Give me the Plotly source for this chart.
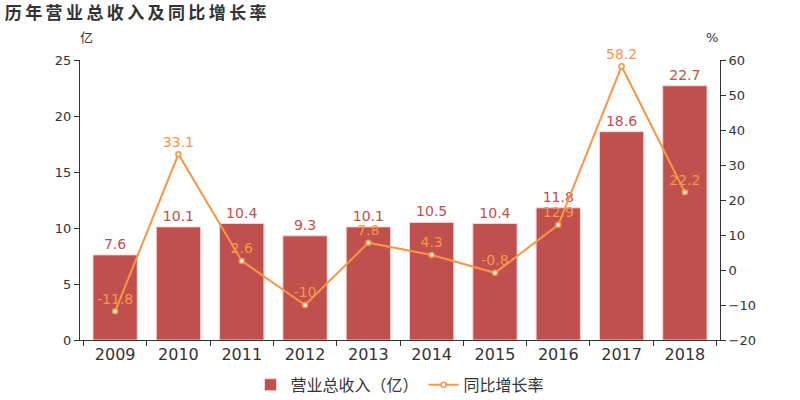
import plotly.graph_objects as go

years = ["2009", "2010", "2011", "2012", "2013", "2014", "2015", "2016", "2017", "2018"]
revenue = [7.6, 10.1, 10.4, 9.3, 10.1, 10.5, 10.4, 11.8, 18.6, 22.7]
growth = [-11.8, 33.1, 2.6, -10, 7.8, 4.3, -0.8, 12.9, 58.2, 22.2]

bar_color = "#c0504d"
line_color = "#f79646"
axis_color = "#333333"
font_family = "DejaVu Sans, Noto Sans CJK SC, sans-serif"

title_text = "\u2009".join("历年营业总收入及同比增长率")

fig = go.Figure()
fig.add_trace(go.Bar(
    x=years, y=revenue, name="营业总收入（亿）",
    marker=dict(color=bar_color, line=dict(color="rgba(255,215,215,0.9)", width=1)),
    text=[str(v) for v in revenue], textposition="outside",
    textfont=dict(color=bar_color, size=14), cliponaxis=False,
    width=0.7,
))
fig.add_trace(go.Scatter(
    x=years, y=growth, name="同比增长率", yaxis="y2",
    mode="lines+markers+text",
    line=dict(color=line_color, width=2),
    marker=dict(color="white", size=5, line=dict(color=line_color, width=1.5)),
    text=[("%g" % v) for v in growth], textposition="top center",
    textfont=dict(color=line_color, size=14), cliponaxis=False,
))

fig.update_layout(
    width=800, height=400,
    margin=dict(l=80, r=80, t=60, b=60, autoexpand=False),
    paper_bgcolor="white", plot_bgcolor="white",
    font=dict(family=font_family, color=axis_color),
    title=dict(text="<b>" + title_text + "</b>", x=0.006, xanchor="left",
               y=0.968, yanchor="middle", font=dict(size=17, color="#333333")),
    xaxis=dict(showline=True, linecolor=axis_color, ticks="outside", tickson="boundaries",
               ticklen=5, tickcolor=axis_color, tickfont=dict(size=16, color=axis_color),
               showgrid=False),
    yaxis=dict(range=[0, 25], dtick=5, showline=True, linecolor=axis_color, ticks="outside",
               ticklen=5, tickcolor=axis_color, tickfont=dict(size=13, color=axis_color),
               showgrid=False, zeroline=False),
    yaxis2=dict(range=[-20, 60], dtick=10, overlaying="y", side="right", showline=True,
                linecolor=axis_color, ticks="outside", ticklen=5, tickcolor=axis_color,
                tickfont=dict(size=13, color=axis_color), showgrid=False, zeroline=False),
    legend=dict(orientation="h", x=0.5, xanchor="center", y=-0.16, yanchor="middle",
                font=dict(size=16, color=axis_color), itemwidth=30),
    bargap=0.3,
)
fig.add_annotation(text="亿", xref="paper", yref="paper", x=-0.003, y=1.079,
                   yanchor="middle", showarrow=False, font=dict(size=13, color=axis_color))
fig.add_annotation(text="%", xref="paper", yref="paper", x=1.0, y=1.079,
                   yanchor="middle", showarrow=False, font=dict(size=13, color=axis_color))

fig.write_html("out.html")
